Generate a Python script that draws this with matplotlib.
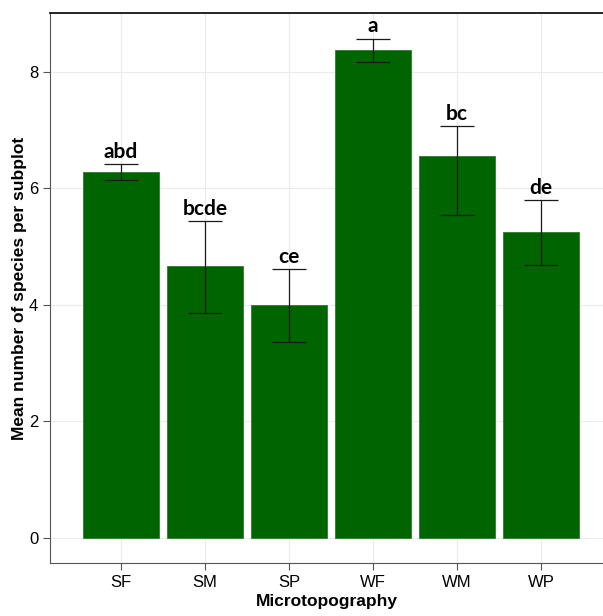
import matplotlib.pyplot as plt
import numpy as np

# Mean species per subplot by microtopography, with error bars and letters
sites = ['SF', 'SM', 'SP', 'WF', 'WM', 'WP']
means = [6.28, 4.67, 4.00, 8.38, 6.56, 5.25]
upper = [6.42, 5.44, 4.62, 8.57, 7.07, 5.80]
lower = [6.15, 3.86, 3.36, 8.17, 5.55, 4.69]
letters = ['abd', 'bcde', 'ce', 'a', 'bc', 'de']

plt.rcParams['font.family'] = ['Liberation Sans', 'DejaVu Sans']

fig = plt.figure(figsize=(6.03, 6.16), dpi=100)
ax = fig.add_axes([0.083, 0.086, 0.917, 0.893])

x = np.arange(len(sites))
means_a = np.array(means)
yerr = [means_a - np.array(lower), np.array(upper) - means_a]

ax.bar(x, means, width=0.9, color='#006400', edgecolor='#2e7d2e', linewidth=0.6, zorder=2)
ax.errorbar(x, means, yerr=yerr, fmt='none', ecolor='#1a1a1a', elinewidth=0.9,
            capsize=12, capthick=0.9, zorder=3)

for xi, up, lab in zip(x, upper, letters):
    ax.annotate(lab, (xi, up), xytext=(0, 1.5), textcoords='offset points',
                ha='center', va='bottom', fontsize=15, fontweight='bold',
                family=['Lato', 'DejaVu Sans'])

ax.set_xlim(-0.845, 5.74)
ax.set_ylim(-0.43, 9.01)
ax.set_xticks(x)
ax.set_xticklabels(sites)
ax.set_yticks([0, 2, 4, 6, 8])

ax.grid(True, color='#ebebeb', linewidth=0.8, zorder=0)
ax.set_axisbelow(True)

ax.spines['right'].set_visible(False)
ax.spines['top'].set_color('black')
ax.spines['top'].set_linewidth(1.2)
ax.spines['left'].set_color('#555555')
ax.spines['bottom'].set_color('#555555')
ax.tick_params(colors='#555555', labelcolor='black', labelsize=12, length=5)

ax.set_xlabel('Microtopography', fontsize=12.5, fontweight='bold', labelpad=3)
ax.set_ylabel('Mean number of species per subplot', fontsize=12.5, fontweight='bold', labelpad=1)

fig.savefig('out.png', dpi=100)
